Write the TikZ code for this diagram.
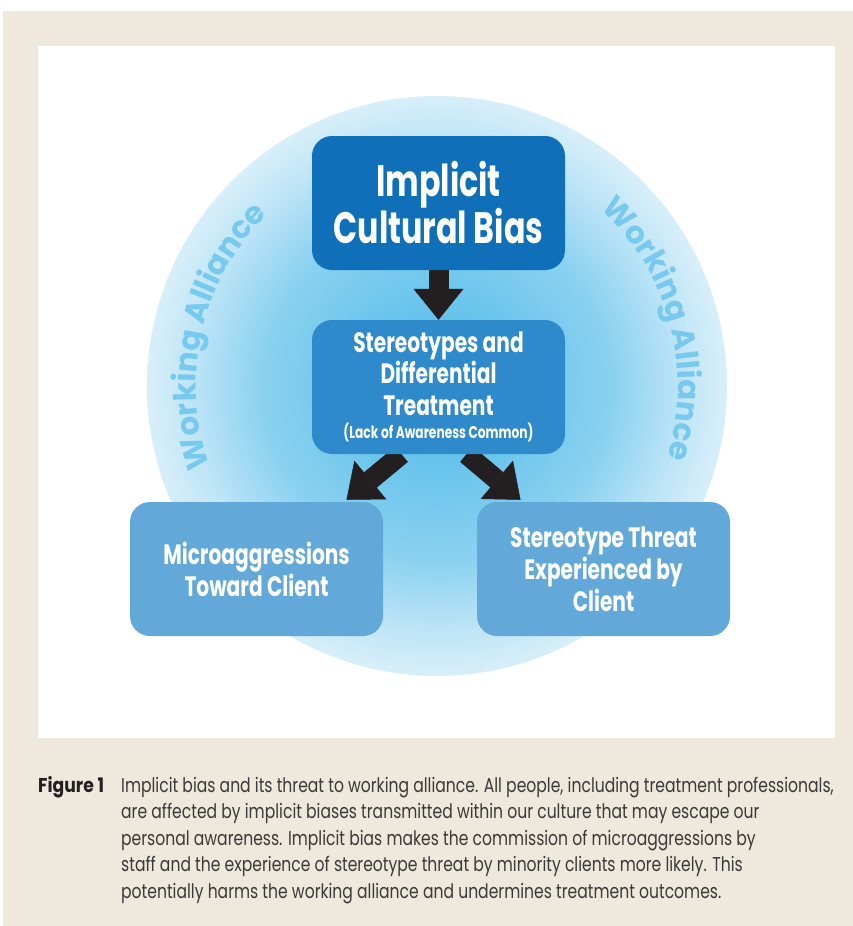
\documentclass[tikz,border=0pt]{standalone}
\usepackage{fontspec}
\setmainfont{Poppins}
\newfontfamily\boxfont{Poppins}[FakeStretch=0.72]
\newfontfamily\capfont{Poppins}[FakeStretch=0.78]
\newfontfamily\figfont{Poppins}[FakeStretch=0.86]
\newfontfamily\ringfont{Poppins}
\usetikzlibrary{arrows.meta,decorations.text}
\definecolor{framebg}{HTML}{EFE8DC}
\definecolor{biasblue}{HTML}{0F6FB8}
\definecolor{stereoblue}{HTML}{2E8ACA}
\definecolor{clientblue}{HTML}{62A8D8}
\definecolor{arrowblack}{HTML}{231F20}
\definecolor{ringblue}{HTML}{78C9EE}
\definecolor{captiongray}{HTML}{3A3A3A}
\definecolor{glowA}{HTML}{4CB9E8}
\definecolor{glowB}{HTML}{8AD1F0}
\definecolor{glowC}{HTML}{BDE4F6}
\definecolor{glowD}{HTML}{D8EFFA}
\pgfdeclareradialshading{allianceglow}{\pgfpoint{0bp}{0bp}}{color(0bp)=(glowA); color(15bp)=(glowB); color(21bp)=(glowC); color(25bp)=(glowD); color(50bp)=(glowD)}
\pgfdeclarelayer{back}
\pgfsetlayers{back,main}
\begin{document}
\begin{tikzpicture}[x=1pt,y=1pt,
	box/.style={rounded corners=20pt,minimum width=253pt,minimum height=134pt,inner sep=0pt,text=white,align=center},
	biasbox/.style={box,fill=biasblue,font=\boxfont\bfseries\fontsize{44}{47}\selectfont},
	stereobox/.style={box,fill=stereoblue,font=\boxfont\bfseries\fontsize{28}{31.5}\selectfont},
	clientbox/.style={box,fill=clientblue,font=\boxfont\bfseries\fontsize{28}{32}\selectfont},
	bigarrow/.style={draw=arrowblack,line width=20pt,-{Triangle[width=50pt,length=31pt,line width=0.5pt]}},
	ringtext/.style={decorate,decoration={text along path,text align=center,
		text={|\ringfont\bfseries\fontsize{31}{31}\selectfont\color{ringblue}|Working Alliance}}}]
	\useasboundingbox (0,0) rectangle (853,-926);
	\node[biasbox] (bias) at (438.5,-203) {Implicit\\Cultural Bias};
	\node[stereobox] (stereo) at (438.5,-387) {Stereotypes and\\Differential\\Treatment\\[-8pt]{\fontsize{17}{20}\selectfont(Lack of Awareness Common)}};
	\node[clientbox] (micro) at (256.5,-569) {Microaggressions\\Toward Client};
	\node[clientbox] (threat) at (603.5,-569) {Stereotype Threat\\Experienced by\\Client};
	\begin{pgfonlayer}{back}
		\fill[white] (0,0) rectangle (853,-926);
		\fill[framebg] (3,-11) rectangle (853,-926);
		\fill[white] (38,-46) rectangle (835,-738);
		\shade[shading=allianceglow] (437,-386) circle[radius=290pt];
		\path[ringtext] (437,-386) ++(214:241pt) arc[start angle=214,end angle=120,radius=241pt];
		\path[ringtext] (437,-386) ++(63:241pt) arc[start angle=63,end angle=-33,radius=241pt];
		\draw[bigarrow] (bias.south) -- (stereo.north);
		\draw[bigarrow] ([xshift=-37pt]stereo.south) -- ([xshift=90pt,yshift=2pt]micro.north);
		\draw[bigarrow] ([xshift=28pt]stereo.south) -- ([xshift=-83pt,yshift=2pt]threat.north);
	\end{pgfonlayer}
	\node[anchor=base west,inner sep=0pt,text=arrowblack,font=\figfont\bfseries\fontsize{20}{26.5}\selectfont] (figlabel) at (38,-792) {Figure 1};
	\node[anchor=base west,inner sep=0pt,align=left,text=captiongray,font=\capfont\fontsize{20}{26.5}\selectfont] (caption) at (121,-898) {Implicit bias and its threat to working alliance. All people, including treatment professionals,\\are affected by implicit biases transmitted within our culture that may escape our\\personal awareness. Implicit bias makes the commission of microaggressions by\\staff and the experience of stereotype threat by minority clients more likely. This\\potentially harms the working alliance and undermines treatment outcomes.};
\end{tikzpicture}
\end{document}
